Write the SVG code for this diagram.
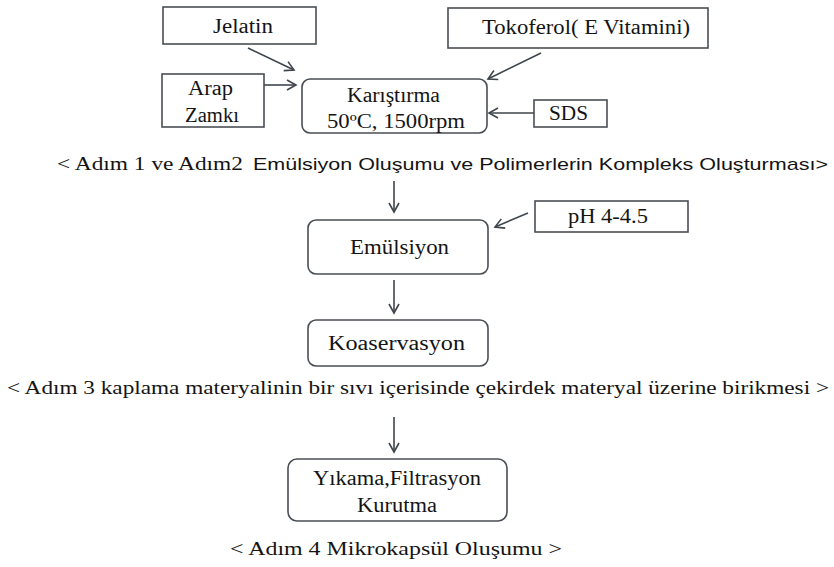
<svg xmlns="http://www.w3.org/2000/svg" width="834" height="567" viewBox="0 0 834 567">
<defs>
<style>
.bg{fill:#ffffff}
.box{fill:#ffffff;stroke:#4a4f55;stroke-width:1.6}
.t{font-family:'Liberation Serif',serif;font-size:20px;fill:#141414}
.c{font-family:'Liberation Serif',serif;font-size:19px;fill:#141414}
.s{font-family:'Liberation Sans',sans-serif;font-size:17px;fill:#141414}
.ln{stroke:#3f464d;stroke-width:1.6;fill:none}
</style>
<marker id="ah" markerUnits="userSpaceOnUse" markerWidth="14" markerHeight="14" viewBox="0 0 14 14" refX="12" refY="7" orient="auto">
<path d="M3,2 L12,7 L3,12" fill="none" stroke="#3f464d" stroke-width="1.6"/>
</marker>
</defs>
<rect class="bg" x="0" y="0" width="834" height="567"/>
<g id="jelatin">
<rect class="box" x="163" y="7" width="153" height="37"/>
<text class="t" x="213" y="33" textLength="60" lengthAdjust="spacingAndGlyphs">Jelatin</text>
</g>
<g id="tokoferol">
<rect class="box" x="448" y="8" width="260" height="40"/>
<text class="t" x="482" y="34" textLength="208" lengthAdjust="spacingAndGlyphs">Tokoferol( E Vitamini)</text>
</g>
<g id="arap">
<rect class="box" x="162" y="74" width="102" height="53"/>
<text class="t" x="188" y="95" textLength="45" lengthAdjust="spacingAndGlyphs">Arap</text>
<text class="t" x="185" y="122" textLength="54" lengthAdjust="spacingAndGlyphs">Zamkı</text>
</g>
<g id="karistirma">
<rect class="box" x="302" y="79" width="185" height="54" rx="8"/>
<text class="t" x="347" y="102" textLength="93" lengthAdjust="spacingAndGlyphs">Karıştırma</text>
<text class="t" x="327" y="128" textLength="138" lengthAdjust="spacingAndGlyphs">50ºC, 1500rpm</text>
</g>
<g id="sds">
<rect class="box" x="534" y="100" width="73" height="27"/>
<text class="t" x="549" y="120" textLength="39" lengthAdjust="spacingAndGlyphs">SDS</text>
</g>
<g id="caption1">
<text class="c" x="57" y="170" textLength="186" lengthAdjust="spacingAndGlyphs">&lt; Adım 1 ve  Adım2</text>
<text class="s" x="253" y="170" textLength="575" lengthAdjust="spacingAndGlyphs">Emülsiyon Oluşumu  ve Polimerlerin Kompleks Oluşturması&gt;</text>
</g>
<g id="ph">
<rect class="box" x="535" y="201" width="153" height="31"/>
<text class="t" x="568" y="223" textLength="80" lengthAdjust="spacingAndGlyphs">pH 4-4.5</text>
</g>
<g id="emulsiyon">
<rect class="box" x="308" y="220" width="180" height="54" rx="8"/>
<text class="t" x="350" y="254" textLength="99" lengthAdjust="spacingAndGlyphs">Emülsiyon</text>
</g>
<g id="koaservasyon">
<rect class="box" x="308" y="320" width="180" height="46" rx="8"/>
<text class="t" x="328" y="350" textLength="137" lengthAdjust="spacingAndGlyphs">Koaservasyon</text>
</g>
<g id="caption3">
<text class="c" x="7" y="394" textLength="822" lengthAdjust="spacingAndGlyphs">&lt; Adım 3 kaplama materyalinin  bir sıvı içerisinde çekirdek materyal üzerine birikmesi &gt;</text>
</g>
<g id="yikama">
<rect class="box" x="288" y="459" width="219" height="62" rx="9"/>
<text class="t" x="313" y="485" textLength="168" lengthAdjust="spacingAndGlyphs">Yıkama,Filtrasyon</text>
<text class="t" x="357" y="512" textLength="80" lengthAdjust="spacingAndGlyphs">Kurutma</text>
</g>
<g id="caption4">
<text class="c" x="230" y="555" textLength="332" lengthAdjust="spacingAndGlyphs">&lt; Adım 4  Mikrokapsül Oluşumu &gt;</text>
</g>
<g id="connectors">
<line class="ln" x1="248" y1="48" x2="294" y2="70" marker-end="url(#ah)"/>
<line class="ln" x1="264" y1="85" x2="296" y2="85" marker-end="url(#ah)"/>
<line class="ln" x1="541" y1="53" x2="488" y2="79" marker-end="url(#ah)"/>
<line class="ln" x1="534" y1="113" x2="489" y2="113" marker-end="url(#ah)"/>
<line class="ln" x1="394" y1="181" x2="394" y2="212" marker-end="url(#ah)"/>
<line class="ln" x1="528" y1="213" x2="495" y2="227" marker-end="url(#ah)"/>
<line class="ln" x1="394" y1="280" x2="394" y2="313" marker-end="url(#ah)"/>
<line class="ln" x1="394" y1="417" x2="394" y2="452" marker-end="url(#ah)"/>
</g>
</svg>
